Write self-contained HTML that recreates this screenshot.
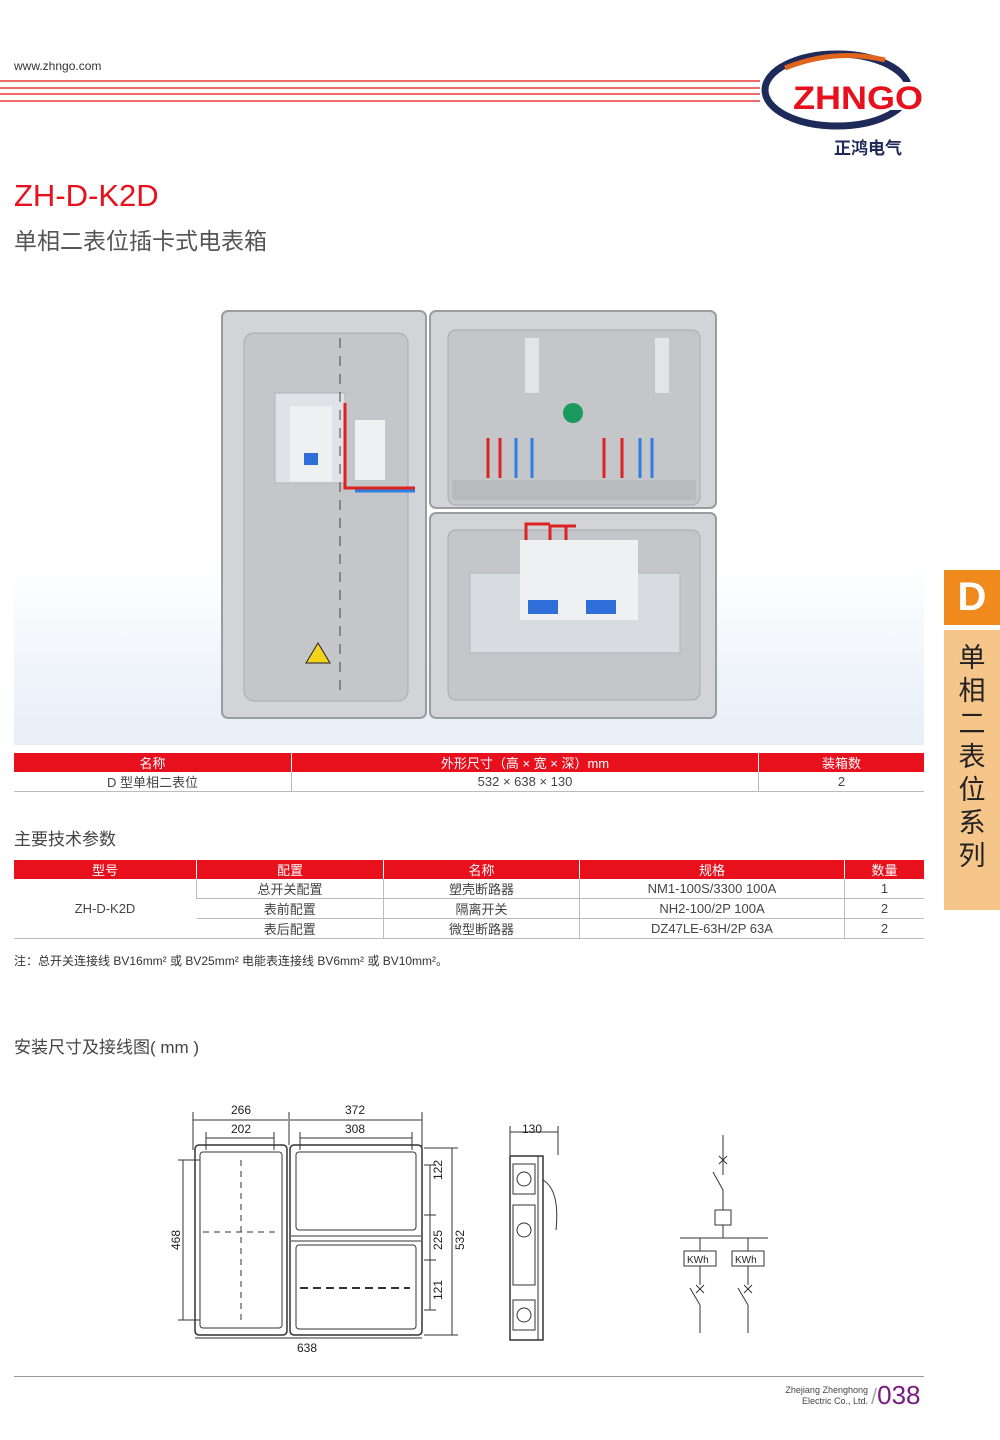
<!DOCTYPE html>
<html><head><meta charset="utf-8"><style>
body{margin:0;width:1000px;height:1440px;position:relative;background:#fff;font-family:"Liberation Sans","Noto Sans CJK SC",sans-serif;overflow:hidden}
.a{position:absolute;white-space:nowrap}
table{position:absolute;border-collapse:collapse;font-size:13px;color:#444}
th{background:#e8101c;color:#fff;font-weight:normal;height:18px;padding:0;border-left:1px solid #fff}
td{text-align:center;height:19px;padding:0;border-left:1px solid #bbb;border-bottom:1px solid #bbb}
td:first-child,th:first-child{border-left:none}
</style></head><body>
<div class="a" style="left:14px;top:59px;font-size:12px;color:#333">www.zhngo.com</div>
<div class="a" style="left:0;top:80px;width:760px;height:2px;background:#f06a6a"></div>
<div class="a" style="left:0;top:87px;width:760px;height:2px;background:#f06a6a"></div>
<div class="a" style="left:0;top:93px;width:760px;height:2px;background:#f06a6a"></div>
<div class="a" style="left:0;top:100px;width:760px;height:2px;background:#f06a6a"></div>
<svg class="a" style="left:755px;top:48px" width="180" height="90">
<ellipse cx="82" cy="42" rx="72" ry="36" fill="none" stroke="#1e2a5a" stroke-width="7"/>
<path d="M30 20 Q80 0 130 12" fill="none" stroke="#e0641c" stroke-width="5"/>
<rect x="34" y="34" width="136" height="28" fill="#fff"/>
<text x="38" y="61" font-family="Liberation Sans" font-weight="bold" font-size="32" fill="#e8101c" textLength="130" lengthAdjust="spacingAndGlyphs">ZHNGO</text>
</svg>
<div class="a" style="left:834px;top:134px;font-size:17px;font-weight:bold;color:#1e2a5a">正鸿电气</div>
<div class="a" style="left:14px;top:178px;font-size:31px;color:#e8101c">ZH-D-K2D</div>
<div class="a" style="left:14px;top:222px;font-size:23px;color:#555">单相二表位插卡式电表箱</div>

<div class="a" style="left:14px;top:560px;width:910px;height:185px;background:linear-gradient(#fff,#e6eef8)"></div>
<svg class="a" style="left:220px;top:308px" width="500" height="414">
<g fill="#d2d4d8" stroke="#9a9ca0" stroke-width="2">
<rect x="2" y="3" width="204" height="407" rx="6"/>
<rect x="210" y="3" width="286" height="197" rx="6"/>
<rect x="210" y="205" width="286" height="205" rx="6"/>
</g>
<g fill="#c4c6ca" stroke="#a8aaae">
<rect x="24" y="25" width="164" height="368" rx="10"/>
<rect x="228" y="22" width="252" height="175" rx="8"/>
<rect x="228" y="222" width="252" height="170" rx="8"/>
</g>
<rect x="232" y="172" width="244" height="20" fill="#b8babd"/>
<rect x="55" y="85" width="70" height="90" fill="#dfe2e6" stroke="#b0b4b8"/>
<rect x="70" y="98" width="42" height="75" fill="#eef0f2"/>
<rect x="84" y="145" width="14" height="12" fill="#2f6ed8"/>
<rect x="135" y="112" width="30" height="60" fill="#eef0f2"/>
<path d="M125 95 V180 H195" stroke="#d22" stroke-width="3" fill="none"/>
<path d="M135 183 H195" stroke="#2f7ee0" stroke-width="3" fill="none"/>
<rect x="250" y="265" width="210" height="80" fill="#d8dbe0" stroke="#b0b4b8"/>
<rect x="300" y="232" width="118" height="80" fill="#eef0f2"/>
<rect x="308" y="292" width="30" height="14" fill="#2f6ed8"/><rect x="366" y="292" width="30" height="14" fill="#2f6ed8"/>
<path d="M306 232 V216 H330 M330 232 V218 H356 M346 232 V218" stroke="#d22" stroke-width="3" fill="none"/>
<circle cx="353" cy="105" r="10" fill="#1a9a5c"/>
<rect x="305" y="30" width="14" height="55" fill="#e2e4e8"/><rect x="435" y="30" width="14" height="55" fill="#e2e4e8"/>
<g stroke="#d22" stroke-width="3"><line x1="268" y1="130" x2="268" y2="170"/><line x1="280" y1="130" x2="280" y2="170"/><line x1="384" y1="130" x2="384" y2="170"/><line x1="402" y1="130" x2="402" y2="170"/></g>
<g stroke="#2f7ee0" stroke-width="3"><line x1="296" y1="130" x2="296" y2="170"/><line x1="312" y1="130" x2="312" y2="170"/><line x1="420" y1="130" x2="420" y2="170"/><line x1="432" y1="130" x2="432" y2="170"/></g>
<path d="M98 335 L86 355 H110 Z" fill="#f3d21c" stroke="#222"/>
<line x1="120" y1="30" x2="120" y2="390" stroke="#444" stroke-dasharray="10 8"/>
</svg>

<table style="left:14px;top:753px;width:910px"><tr><th style="width:277px">名称</th><th style="width:466px">外形尺寸（高 × 宽 × 深）mm</th><th>装箱数</th></tr>
<tr><td>D 型单相二表位</td><td>532 × 638 × 130</td><td>2</td></tr></table>
<div class="a" style="left:14px;top:825px;font-size:17px;color:#444">主要技术参数</div>
<table style="left:14px;top:860px;width:910px"><tr><th style="width:182px">型号</th><th style="width:186px">配置</th><th style="width:195px">名称</th><th style="width:264px">规格</th><th>数量</th></tr>
<tr><td rowspan="3">ZH-D-K2D</td><td>总开关配置</td><td>塑壳断路器</td><td>NM1-100S/3300 100A</td><td>1</td></tr>
<tr><td>表前配置</td><td>隔离开关</td><td>NH2-100/2P 100A</td><td>2</td></tr>
<tr><td>表后配置</td><td>微型断路器</td><td>DZ47LE-63H/2P 63A</td><td>2</td></tr></table>
<div class="a" style="left:14px;top:952px;font-size:12px;color:#333">注：总开关连接线 BV16mm² 或 BV25mm² 电能表连接线 BV6mm² 或 BV10mm²。</div>
<div class="a" style="left:14px;top:1033px;font-size:17px;color:#444">安装尺寸及接线图( mm )</div>

<div class="a" style="left:944px;top:570px;width:56px;height:55px;background:#f08a1c;color:#fff;font-size:40px;font-weight:bold;text-align:center;line-height:55px">D</div>
<div class="a" style="left:944px;top:630px;width:56px;height:280px;background:#f6c58a;color:#222;font-size:27px;text-align:center;line-height:33px;white-space:normal;padding-top:12px;box-sizing:border-box">单<br>相<br>二<br>表<br>位<br>系<br>列</div>

<svg class="a" style="left:0;top:1095px" width="1000" height="270" font-family="Liberation Sans" font-size="12" fill="#222">
<g transform="translate(0,-1095)">
<g stroke="#333" fill="none" stroke-width="1">
<line x1="193" y1="1120" x2="288" y2="1120"/><line x1="290" y1="1120" x2="422" y2="1120"/>
<line x1="193" y1="1112" x2="193" y2="1150"/><line x1="289" y1="1112" x2="289" y2="1145"/><line x1="422" y1="1112" x2="422" y2="1150"/>
<line x1="206" y1="1138" x2="274" y2="1138"/><line x1="300" y1="1138" x2="412" y2="1138"/>
<line x1="206" y1="1132" x2="206" y2="1150"/><line x1="274" y1="1132" x2="274" y2="1150"/><line x1="300" y1="1132" x2="300" y2="1150"/><line x1="412" y1="1132" x2="412" y2="1150"/>
<line x1="195" y1="1338" x2="422" y2="1338"/>
<line x1="183" y1="1160" x2="183" y2="1320"/><line x1="178" y1="1160" x2="200" y2="1160"/><line x1="178" y1="1320" x2="200" y2="1320"/>
<line x1="430" y1="1165" x2="430" y2="1310"/>
<line x1="424" y1="1165" x2="436" y2="1165"/><line x1="424" y1="1215" x2="436" y2="1215"/><line x1="424" y1="1260" x2="436" y2="1260"/><line x1="424" y1="1310" x2="436" y2="1310"/>
<line x1="452" y1="1148" x2="452" y2="1335"/><line x1="424" y1="1148" x2="458" y2="1148"/><line x1="424" y1="1335" x2="458" y2="1335"/>
<rect x="195" y="1145" width="92" height="190" rx="4" stroke-width="1.5"/><rect x="200" y="1152" width="82" height="176" rx="3"/>
<rect x="290" y="1145" width="132" height="190" rx="4" stroke-width="1.5"/><rect x="296" y="1152" width="120" height="78" rx="3"/><rect x="296" y="1245" width="120" height="84" rx="3"/>
<line x1="291" y1="1236" x2="421" y2="1236"/><line x1="291" y1="1241" x2="421" y2="1241"/>
<line x1="203" y1="1232" x2="280" y2="1232" stroke-dasharray="6 5"/><line x1="241" y1="1160" x2="241" y2="1320" stroke-dasharray="6 5"/>
<line x1="300" y1="1288" x2="410" y2="1288" stroke-dasharray="8 5" stroke-width="2"/>
<rect x="510" y="1156" width="33" height="184" stroke-width="1.5"/><line x1="538" y1="1156" x2="538" y2="1340"/>
<rect x="513" y="1164" width="22" height="30"/><rect x="513" y="1205" width="22" height="80"/><rect x="513" y="1300" width="22" height="30"/>
<circle cx="524" cy="1179" r="7"/><circle cx="524" cy="1230" r="7"/><circle cx="524" cy="1315" r="7"/>
<path d="M543 1180 Q560 1190 556 1230"/>
<line x1="510" y1="1132" x2="558" y2="1132"/><line x1="510" y1="1126" x2="510" y2="1155"/><line x1="558" y1="1126" x2="558" y2="1155"/>
<line x1="723" y1="1135" x2="723" y2="1175"/><line x1="723" y1="1190" x2="713" y2="1172"/><line x1="723" y1="1190" x2="723" y2="1210"/>
<rect x="715" y="1210" width="16" height="15"/><line x1="723" y1="1225" x2="723" y2="1238"/>
<line x1="680" y1="1238" x2="768" y2="1238"/><line x1="700" y1="1238" x2="700" y2="1251"/><line x1="748" y1="1238" x2="748" y2="1251"/>
<rect x="684" y="1251" width="32" height="15"/><rect x="732" y="1251" width="32" height="15"/>
<line x1="700" y1="1266" x2="700" y2="1285"/><line x1="748" y1="1266" x2="748" y2="1285"/>
<line x1="700" y1="1305" x2="690" y2="1288"/><line x1="748" y1="1305" x2="738" y2="1288"/>
<line x1="700" y1="1305" x2="700" y2="1333"/><line x1="748" y1="1305" x2="748" y2="1333"/>
</g>
<g stroke="#333"><line x1="719" y1="1156" x2="727" y2="1164"/><line x1="727" y1="1156" x2="719" y2="1164"/><line x1="696" y1="1285" x2="704" y2="1293"/><line x1="704" y1="1285" x2="696" y2="1293"/><line x1="744" y1="1285" x2="752" y2="1293"/><line x1="752" y1="1285" x2="744" y2="1293"/></g>
<text x="231" y="1114">266</text><text x="345" y="1114">372</text><text x="231" y="1133">202</text><text x="345" y="1133">308</text>
<text x="297" y="1352">638</text><text x="522" y="1133">130</text>
<text x="687" y="1263" font-size="10">KWh</text><text x="735" y="1263" font-size="10">KWh</text>
<text transform="translate(180,1250) rotate(-90)">468</text><text transform="translate(442,1180) rotate(-90)">122</text>
<text transform="translate(442,1250) rotate(-90)">225</text><text transform="translate(464,1250) rotate(-90)">532</text>
<text transform="translate(442,1300) rotate(-90)">121</text>
</g>
</svg>

<div class="a" style="left:14px;top:1376px;width:910px;height:1px;background:#999"></div>
<div class="a" style="left:760px;top:1385px;width:108px;font-size:9px;color:#444;text-align:right;line-height:11px">Zhejiang Zhenghong<br>Electric Co., Ltd.</div>
<div class="a" style="left:871px;top:1380px;font-size:26px;color:#7a1a80"><span style="color:#aaa;font-size:22px">/</span>038</div>
</body></html>
